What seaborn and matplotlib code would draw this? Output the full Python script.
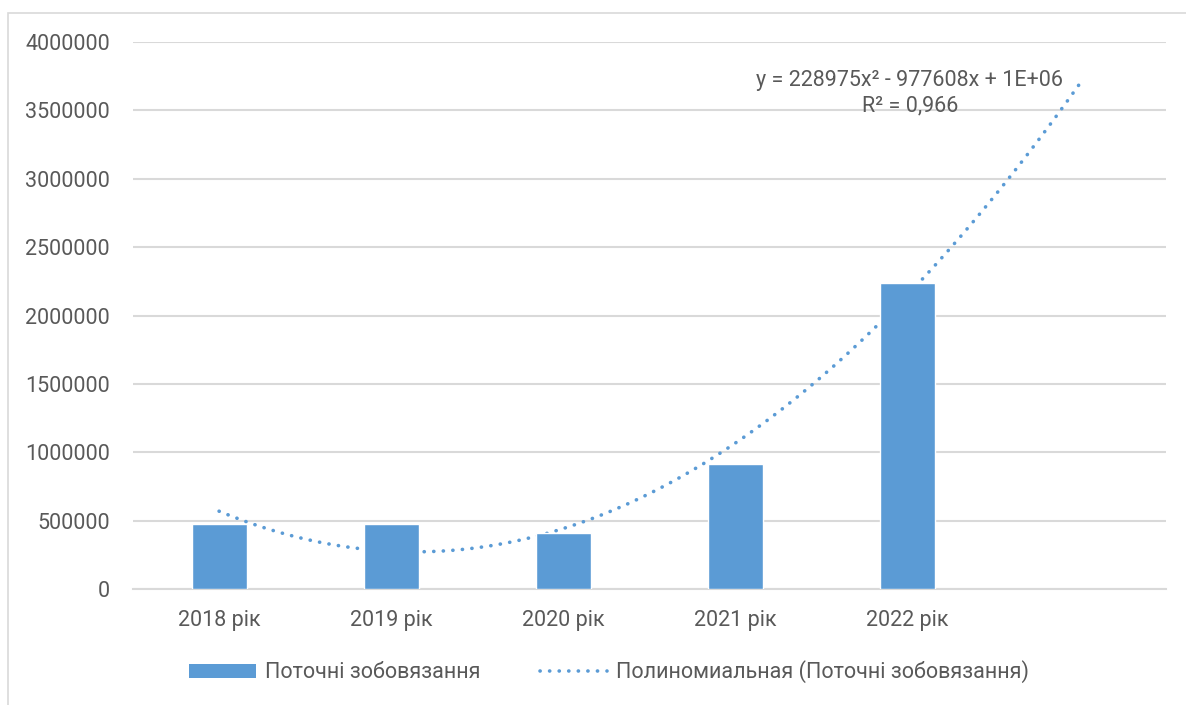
import numpy as np
import pandas as pd
import matplotlib
matplotlib.use("Agg")
import matplotlib.pyplot as plt
import seaborn as sns
from matplotlib.patches import Patch, Rectangle
from matplotlib.lines import Line2D

# data
years = ["2018 рік", "2019 рік", "2020 рік", "2021 рік", "2022 рік"]
liabilities = [476000, 473000, 410000, 915000, 2235000]
bar_label = "Поточні зобовязання"
trend_label = "Полиномиальная (Поточні зобовязання)"
equation = "y = 228975x² - 977608x + 1E+06\nR² = 0,966"
yticks = list(range(0, 4000001, 500000))

BLUE = "#5b9bd5"
GRID = "#d9d9d9"
TXT = "#595959"

sns.set_theme(style="white")
plt.rcParams["font.family"] = ["Roboto", "DejaVu Sans"]

df = pd.DataFrame({"year": years, "value": liabilities})

fig = plt.figure(figsize=(11.86, 7.05), dpi=100)
ax = fig.add_axes([133 / 1186, 1 - 589 / 705, (1166 - 133) / 1186, (589 - 42) / 705])

# outer chart border (Excel chart area)
fig.patches.append(Rectangle((8 / 1186, -0.05), 1.2, 1 - 13 / 705 + 0.05,
                             transform=fig.transFigure, fill=False,
                             edgecolor="#d9d9d9", linewidth=1.2, zorder=0))

# polynomial (2nd order) trendline, forecast 1 period forward
xs = np.arange(1, len(liabilities) + 1)
coef = np.polyfit(xs, liabilities, 2)
grid = np.linspace(1, len(liabilities) + 1, 200)
trend = np.polyval(coef, grid)
ax.plot(grid - 1, trend, color=BLUE, linewidth=2.6,
        linestyle=(0, (0.05, 2.6)), dash_capstyle="round", zorder=2)

sns.barplot(data=df, x="year", y="value", color=BLUE, width=0.32,
            saturation=1, ax=ax, zorder=3)

ax.set_xlim(-0.5, 5.5)
ax.set_ylim(0, 4000000)
ax.set_yticks(yticks)
ax.set_yticklabels([str(v) for v in yticks])
ax.set_xticks(range(len(years)))
ax.set_xticklabels(years)
ax.set_xlabel("")
ax.set_ylabel("")
ax.grid(axis="y", color=GRID, linewidth=1.5)
ax.set_axisbelow(True)
for s in ["top", "right", "left"]:
    ax.spines[s].set_visible(False)
ax.spines["bottom"].set_color(GRID)
ax.spines["bottom"].set_linewidth(1.5)
ax.tick_params(axis="both", length=0, labelsize=15.5, colors=TXT)
ax.tick_params(axis="y", pad=16.5)
ax.tick_params(axis="x", pad=15)

ax.text(910 / 1186, 1 - 93 / 705, equation, transform=fig.transFigure,
        ha="center", va="center", fontsize=15.5, color=TXT, linespacing=1.25)

handles = [Patch(facecolor=BLUE, edgecolor="none"),
           Line2D([0], [0], color=BLUE, linewidth=2.6, linestyle=(0, (0.05, 2.6)),
                  dash_capstyle="round")]
fig.legend(handles, [bar_label, trend_label], loc="center",
           bbox_to_anchor=(609 / 1186, 1 - 672 / 705), ncol=2, frameon=False,
           fontsize=15.5, labelcolor=TXT, handlelength=3.1, handleheight=0.6,
           handletextpad=0.4, columnspacing=2.8)

fig.savefig("out.png", dpi=100)
